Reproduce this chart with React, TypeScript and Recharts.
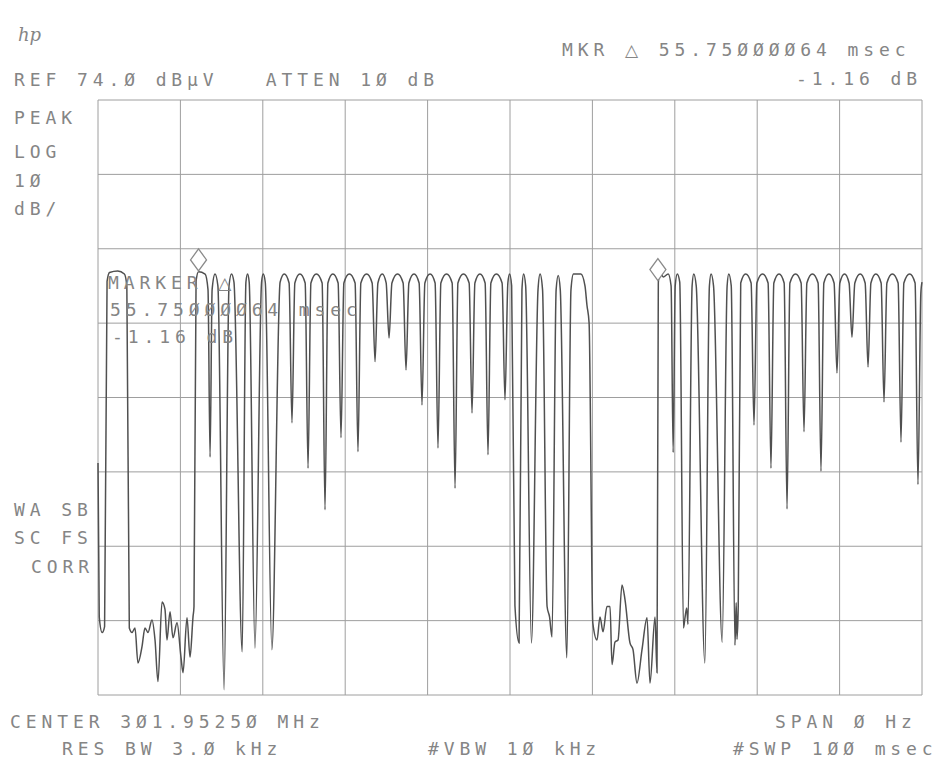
import {
  ComposedChart,
  Line,
  Scatter,
  XAxis,
  YAxis,
  ReferenceLine,
} from "recharts";

type Pt = [number, number]; // [time ms, level dBµV]

// zero-span trace, segment by segment
const burstA: Pt[] = [
  [0, 25.2], [0.15, 4.5], [0.5, 2.4], [0.8, 3.2], [1.1, 49.6], [1.4, 50.8],
  [2.4, 51.0], [3.2, 50.6], [3.5, 49.0], [3.8, 3.0],
];

const noiseA: Pt[] = [
  [4.13, 2.4], [4.49, 3.0], [4.85, -1.7], [5.34, 0.5], [5.7, 3.0], [6.07, 2.4],
  [6.55, 4.1], [6.92, 1.4], [7.28, -4.2], [7.77, 6.5], [8.13, 5.5], [8.37, 1.4],
  [8.74, 5.2], [9.1, 1.7], [9.59, 3.7], [10.07, -0.9], [10.32, -3.0], [10.8, 4.4],
  [11.17, -0.9], [11.53, 4.5], [11.65, 5.9],
];

const burstB: Pt[] = [
  [11.9, 49.6], [12.2, 50.9], [13.0, 50.6], [13.35, 48.5], [13.6, 26.0], [13.85, 48.5],
  [14.2, 50.6], [14.55, 49.0], [15.3, -5.3], [15.9, 49.0], [16.2, 50.6], [16.5, 49.5],
  [17.5, -0.2], [17.95, 49.5], [18.15, 50.6], [18.35, 49.5], [19.05, 0.3], [19.85, 49.5],
  [20.05, 50.6], [20.3, 49.5], [21.1, 0.1], [22.1, 49.5], [22.6, 50.6],
];

const combA: Pt[] = [
  [23.19, 49.4], [23.54, 30.6], [23.89, 49.4], [24.5, 50.6],
  [25.14, 49.4], [25.49, 24.5], [25.84, 49.4], [26.5, 50.6],
  [27.2, 49.4], [27.55, 18.9], [27.9, 49.4], [28.5, 50.6],
  [29.14, 49.4], [29.49, 28.6], [29.84, 49.4], [30.5, 50.6],
  [31.2, 49.4], [31.55, 26.7], [31.9, 49.4], [32.6, 50.6],
  [33.27, 49.4], [33.62, 38.8], [33.97, 49.4], [34.5, 50.6],
  [34.97, 49.4], [35.32, 42.0], [35.67, 49.4], [36.35, 50.6],
  [37.03, 49.4], [37.38, 37.7], [37.73, 49.4], [38.35, 50.6],
  [38.97, 49.4], [39.32, 33.0], [39.67, 49.4], [40.3, 50.6],
  [40.91, 49.4], [41.26, 27.2], [41.61, 49.4], [42.3, 50.6],
  [42.98, 49.4], [43.33, 21.8], [43.68, 49.4], [44.35, 50.6],
  [45.04, 49.4], [45.39, 31.9], [45.74, 49.4], [46.35, 50.6],
  [46.98, 49.4], [47.33, 26.3], [47.68, 49.4], [48.35, 50.6],
  [49.04, 49.4], [49.39, 33.7],
];

const burstC: Pt[] = [
  [49.74, 49.4], [49.95, 50.6], [50.2, 49.0], [50.6, 6.0], [51.1, 1.0], [51.45, 48.5],
  [51.65, 50.6], [51.9, 49.0], [52.6, 1.0], [53.4, 48.5], [53.65, 50.6], [53.95, 48.5],
  [54.5, 5.9], [54.8, 4.5], [55.1, 1.8], [55.6, 48.5], [55.85, 50.4], [56.1, 48.5],
  [56.9, -1.0], [57.4, 48.5], [57.7, 50.6], [58.6, 50.6], [59.1, 49.0], [59.34, 46.4],
  [59.6, 44.0], [60.05, 3.7],
];

const noiseB: Pt[] = [
  [60.56, 1.4], [60.92, 4.5], [61.29, 2.5], [61.77, 5.9], [62.14, 5.9], [62.38, -1.9],
  [62.74, 1.1], [63.11, 1.4], [63.59, 8.8], [63.96, 6.8], [64.56, 1.0], [64.93, 0.1],
  [65.41, -4.4], [66.02, 0.1], [66.63, 4.4], [66.99, -4.4], [67.6, 4.5], [67.84, -3.0],
];

const burstD: Pt[] = [
  [68.0, 49.4], [68.2, 51.0], [68.6, 50.2], [69.2, 50.6], [69.55, 49.0], [69.8, 26.6],
  [70.05, 49.0], [70.3, 50.6], [70.6, 49.5], [71.05, 3.0], [71.25, 4.5], [71.45, 5.7],
  [71.6, 3.5], [72.1, 49.0], [72.3, 50.6], [72.6, 49.0], [73.65, -1.7], [74.2, 49.0],
  [74.4, 50.6], [74.7, 49.0], [75.75, 1.1], [76.35, 49.0], [76.55, 50.6], [76.85, 49.0],
  [77.3, 0.7], [77.45, 6.4], [77.55, 1.5], [77.7, 6.0], [78.0, 49.4], [78.6, 50.6],
];

const combB: Pt[] = [
  [79.26, 49.4], [79.61, 30.3], [79.96, 49.4], [80.65, 50.6],
  [81.32, 49.4], [81.67, 24.5], [82.02, 49.4], [82.65, 50.6],
  [83.27, 49.4], [83.62, 19.0], [83.97, 49.4], [84.65, 50.6],
  [85.33, 49.4], [85.68, 29.4], [86.03, 49.4], [86.7, 50.6],
  [87.39, 49.4], [87.74, 24.1], [88.09, 49.4], [88.7, 50.6],
  [89.33, 49.4], [89.68, 37.3], [90.03, 49.4], [90.6, 50.6],
  [91.15, 49.4], [91.5, 42.1], [91.85, 49.4], [92.5, 50.6],
  [93.1, 49.4], [93.45, 38.1], [93.8, 49.4], [94.4, 50.6],
  [95.04, 49.4], [95.39, 33.4], [95.74, 49.4], [96.4, 50.6],
  [97.1, 49.4], [97.45, 28.0], [97.8, 49.4], [98.5, 50.6],
  [99.16, 49.4], [99.51, 22.3], [99.86, 48.0], [100, 49.5],
];

// the two delta markers (55.75 ms apart)
const markers = [
  { t: 12.2, db: 52.5 },
  { t: 67.95, db: 51.2 },
];

// graticule: 10 ms and 10 dB per division
const timeTicks = [0, 10, 20, 30, 40, 50, 60, 70, 80, 90, 100];
const levelTicks = [-6, 4, 14, 24, 34, 44, 54, 64, 74];

const trace = [
  ...burstA, ...noiseA, ...burstB, ...combA, ...burstC, ...noiseB, ...burstD, ...combB,
].map(([t, db]) => ({ t, db }));

const gridColor = "#9e9e9e";

const textStyle: React.CSSProperties = {
  position: "absolute",
  fontFamily: "'DejaVu Sans Mono', monospace",
  fontSize: 18,
  letterSpacing: 4.9,
  color: "#858585",
  whiteSpace: "pre",
  lineHeight: "18px",
};

function T({ x, y, children }: { x: number; y: number; children: React.ReactNode }) {
  return <div style={{ ...textStyle, left: x, top: y - 9 }}>{children}</div>;
}

// bigger outline triangle, as the analyser prints it
const Delta = () => (
  <span style={{ fontFamily: "'DejaVu Sans', sans-serif", fontSize: 17 }}>△</span>
);

function Diamond(props: any) {
  const { cx, cy } = props;
  if (cx == null || cy == null) return null;
  return (
    <polygon
      points={`${cx},${cy - 11} ${cx + 8},${cy} ${cx},${cy + 11} ${cx - 8},${cy}`}
      fill="#fff"
      stroke="#8a8a8a"
      strokeWidth={1.3}
    />
  );
}

export default function App() {
  return (
    <div
      style={{
        position: "absolute",
        left: 0,
        top: 0,
        width: 948,
        height: 771,
        background: "#fff",
        overflow: "hidden",
      }}
    >
      <ComposedChart
        width={948}
        height={771}
        margin={{ top: 100, right: 26, bottom: 76, left: 98 }}
      >
        <XAxis
          type="number"
          dataKey="t"
          domain={[0, 100]}
          ticks={timeTicks}
          height={0}
          tick={false}
          tickLine={false}
          axisLine={false}
        />
        <YAxis
          type="number"
          domain={[-6, 74]}
          ticks={levelTicks}
          width={0}
          tick={false}
          tickLine={false}
          axisLine={false}
        />
        {timeTicks.map((t) => (
          <ReferenceLine key={"x" + t} x={t} stroke={gridColor} strokeWidth={1} />
        ))}
        {levelTicks.map((v) => (
          <ReferenceLine key={"y" + v} y={v} stroke={gridColor} strokeWidth={1} />
        ))}
        <Line
          data={trace}
          dataKey="db"
          type="monotone"
          stroke="#505050"
          strokeWidth={1.5}
          dot={false}
          isAnimationActive={false}
        />
        <Scatter
          data={markers}
          dataKey="db"
          shape={Diamond}
          isAnimationActive={false}
        />
      </ComposedChart>

      <div
        style={{
          position: "absolute",
          left: 18,
          top: 24,
          fontFamily: "'DejaVu Serif', serif",
          fontStyle: "italic",
          fontSize: 18,
          color: "#858585",
        }}
      >
        hp
      </div>
      <T x={14} y={80}>{"REF 74.Ø dBμV   ATTEN 1Ø dB"}</T>
      <T x={562} y={50}>
        {"MKR "}
        <Delta />
        {" 55.75ØØØØ64 msec"}
      </T>
      <T x={796} y={79}>{"-1.16 dB"}</T>
      <T x={14} y={118}>{"PEAK"}</T>
      <T x={14} y={152}>{"LOG"}</T>
      <T x={14} y={181}>{"1Ø"}</T>
      <T x={14} y={209}>{"dB/"}</T>
      <T x={14} y={510}>{"WA SB"}</T>
      <T x={14} y={538}>{"SC FS"}</T>
      <T x={31} y={567}>{"CORR"}</T>
      <T x={108} y={283}>
        {"MARKER "}
        <Delta />
      </T>
      <T x={110} y={310}>{"55.75ØØØØ64 msec"}</T>
      <T x={112} y={337}>{"-1.16 dB"}</T>
      <T x={10} y={722}>{"CENTER 3Ø1.9525Ø MHz"}</T>
      <T x={775} y={722}>{"SPAN Ø Hz"}</T>
      <T x={62} y={749}>{"RES BW 3.Ø kHz"}</T>
      <T x={428} y={749}>{"#VBW 1Ø kHz"}</T>
      <T x={733} y={749}>{"#SWP 1ØØ msec"}</T>
    </div>
  );
}
